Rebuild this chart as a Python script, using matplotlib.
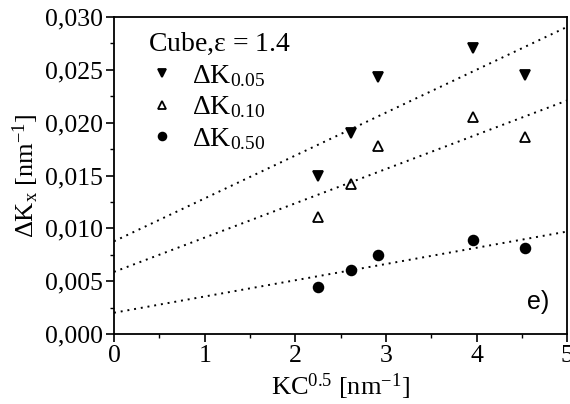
import numpy as np
import matplotlib
matplotlib.use('Agg')
import matplotlib.pyplot as plt
from matplotlib.ticker import MultipleLocator, FuncFormatter

plt.rcParams['font.family'] = ['Liberation Serif', 'DejaVu Serif']
plt.rcParams['mathtext.fontset'] = 'custom'
plt.rcParams['mathtext.rm'] = 'Liberation Serif'
plt.rcParams['mathtext.it'] = 'Liberation Serif'

# data
kc = [2.25, 2.61, 2.91, 3.96, 4.54]
dk_005 = [0.0150, 0.0190, 0.0243, 0.0271, 0.0245]
dk_010 = [0.0111, 0.0142, 0.0178, 0.0205, 0.0186]
dk_050 = [0.0045, 0.0061, 0.0075, 0.0089, 0.0081]
labels = [r'$\Delta$K$_{0.05}$', r'$\Delta$K$_{0.10}$', r'$\Delta$K$_{0.50}$']
markers = ['v', '^', 'o']
fills = ['black', 'white', 'black']

fig = plt.figure(figsize=(5.70, 4.04), dpi=100)
ax = fig.add_axes([0.2, 0.173, 0.795, 0.785])

xx = np.array([0, 5])
for ys, lab, m, fc in zip([dk_005, dk_010, dk_050], labels, markers, fills):
    ax.plot(kc, ys, ls='none', marker=m, ms=7,
            mfc=fc, mec='black', mew=1.3, label=lab)
    # linear fit
    p = np.polyfit(kc, ys, 1)
    ax.plot(xx, np.polyval(p, xx), ls=(0, (1, 2.5)), color='black', lw=1.4)

ax.set_xlim(0, 5)
ax.set_ylim(0, 0.030)
ax.xaxis.set_major_locator(MultipleLocator(1))
ax.xaxis.set_minor_locator(MultipleLocator(0.5))
ax.yaxis.set_major_locator(MultipleLocator(0.005))
ax.yaxis.set_minor_locator(MultipleLocator(0.0025))
ax.yaxis.set_major_formatter(FuncFormatter(lambda v, pos: ('%.3f' % v).replace('.', ',')))
ax.tick_params(which='major', direction='out', length=6, width=1.2, labelsize=18.5, pad=2)
ax.tick_params(which='minor', direction='out', length=3, width=1.0)
for s in ax.spines.values():
    s.set_linewidth(1.3)

ax.set_xlabel(r'KC$^{0.5}$ [nm$^{\mathregular{-1}}$]', fontsize=19, labelpad=3)
ax.set_ylabel(r'$\Delta$K$_{x}$ [nm$^{\mathregular{-1}}$]', fontsize=19, labelpad=3)

leg = ax.legend(title=r'Cube,$\varepsilon$ = 1.4', loc='upper left', frameon=False,
                fontsize=20, title_fontsize=20, alignment='left',
                handletextpad=0.6, labelspacing=0.2, borderaxespad=0.0,
                handlelength=1.0, markerscale=0.8, bbox_to_anchor=(0.05, 0.99))

ax.text(0.935, 0.1, 'e)', transform=ax.transAxes, fontsize=18,
        family='Liberation Sans', ha='center', va='center')

fig.savefig('out.png', dpi=100)
